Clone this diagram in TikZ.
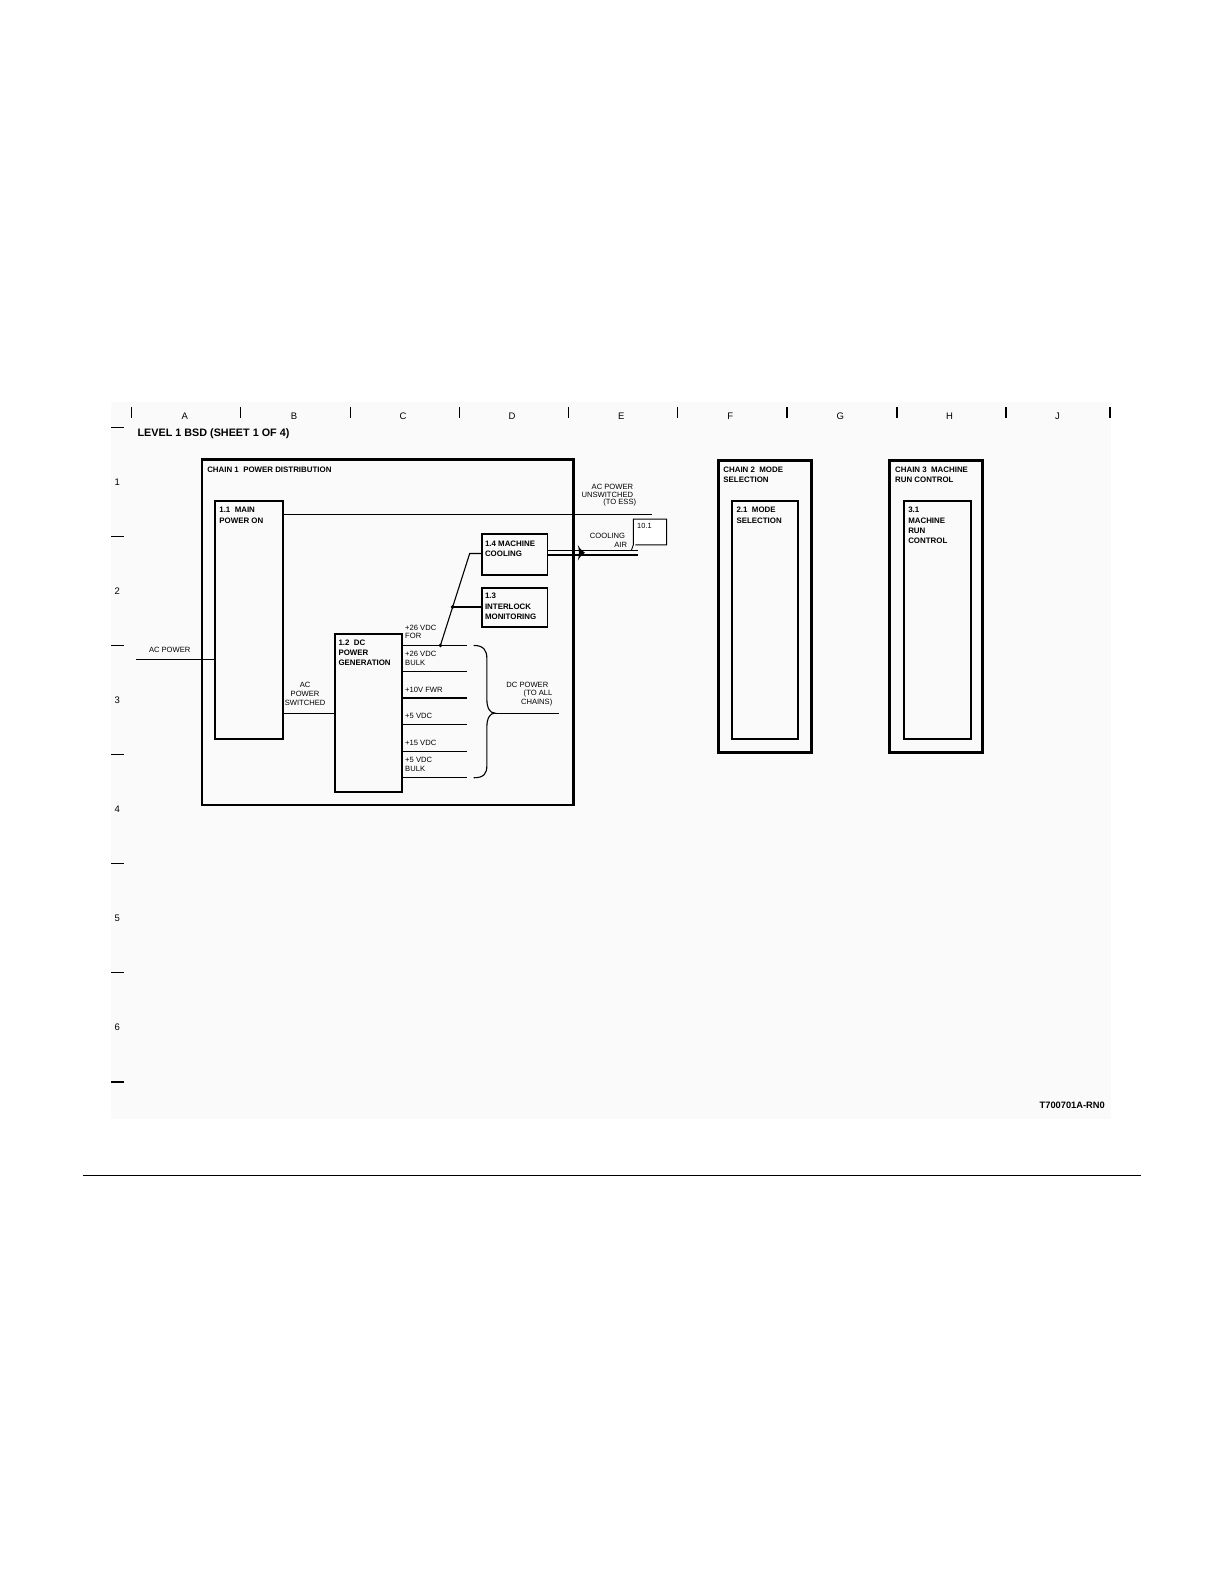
\documentclass[tikz,border=0pt]{standalone}
\usepackage{fontspec}
\setmainfont{Liberation Sans}
\usetikzlibrary{calc}
\begin{document}
\begin{tikzpicture}[x=1.0101pt,y=-1.0101pt,
  txt/.style={inner sep=0,font=\fontsize{7.6}{8.8}\selectfont,align=left},
  btxt/.style={inner sep=0,font=\fontsize{7.9}{10.3}\selectfont\bfseries,align=left},
  grid/.style={inner sep=0,font=\fontsize{9.5}{10}\selectfont},
  chainbox/.style={draw,line width=2.8pt},
  fbox/.style={draw,line width=1.8pt},
  wire/.style={line width=1.1pt},
  tick/.style={line width=1.4pt}]
\useasboundingbox (0,0) rectangle (1211.8,1568.2);
\fill[black!1.8] (110,398) rectangle (1100,1108);
% column ticks and letters
\foreach \x [count=\i] in {130,238,347,455,563,671,779,888,996,1099}
  \draw[tick] (\x,403) -- (\x,414);
\foreach \x/\l in {183/A,291/B,399/C,507/D,615/E,723/F,832/G,940/H,1047/J}
  \node[grid] (col\l) at (\x,412) {\l};
% row dashes and numbers
\foreach \y in {423,531,639,747,855,963,1071}
  \draw[tick] (110,\y) -- (123,\y);
\foreach \y/\n in {477/1,585/2,693/3,801/4,909/5,1017/6}
  \node[grid] (row\n) at (116,\y) {\n};
\node[btxt,font=\fontsize{10.8}{12}\selectfont\bfseries,anchor=west] (title) at (136,429) {LEVEL 1 BSD (SHEET 1 OF 4)};
% chain 1
\draw[chainbox] (200,455) rectangle (568,797);
\node[btxt,anchor=west] (c1t) at (205,465) {CHAIN 1\ \ POWER DISTRIBUTION};
\node[fbox,minimum width=67.7pt,minimum height=238.4pt,anchor=north west,inner sep=0] (b11) at (212,495) {};
\node[btxt,anchor=north west] (b11t) at (217,502.2) {1.1\ \ MAIN\\POWER ON};
\node[fbox,minimum width=66.7pt,minimum height=157.6pt,anchor=north west,inner sep=0] (b12) at (331,627) {};
\node[btxt,anchor=north west] (b12t) at (335,633.2) {1.2\ \ DC\\POWER\\GENERATION};
\node[fbox,minimum width=65.7pt,minimum height=40.4pt,anchor=north west,inner sep=0] (b14) at (476,528) {};
\node[btxt,anchor=north west] (b14t) at (480,535.2) {1.4 MACHINE\\COOLING};
\node[fbox,minimum width=65.7pt,minimum height=39.4pt,anchor=north west,inner sep=0] (b13) at (476,581) {};
\node[btxt,anchor=north west] (b13t) at (480,587.2) {1.3\\INTERLOCK\\MONITORING};
% AC power in
\coordinate (acin) at (135,653);
\draw[wire] (acin) -- (acin -| b11.west);
\node[txt] (acl) at (168,643) {AC POWER};
% AC unswitched
\coordinate (unsw) at (645,509);
\draw[wire] (unsw -| b11.east) -- (unsw);
\node[txt,anchor=east] (u1) at (627,482) {AC POWER};
\node[txt,anchor=east] (u2) at (627,490) {UNSWITCHED};
\node[txt,anchor=east] (u3) at (630,498) {(TO ESS)};
% AC switched
\coordinate (sw) at (300,706);
\draw[wire] (sw -| b11.east) -- (sw -| b12.west);
\node[txt,align=center] (swl) at (302,687) {AC\\POWER\\SWITCHED};
% DC outputs
\foreach \y/\n in {639/a,665/b,691/c,717/d,744/e,770/f}{
  \coordinate (o\n) at (462,\y);
  \draw[wire] (o\n -| b12.east) -- (o\n);
}
\node[txt,anchor=west] (l1) at (401,625.5) {+26 VDC\\FOR};
\node[txt,anchor=west] (l2) at (401,651.5) {+26 VDC\\BULK};
\node[txt,anchor=west] (l3) at (401,683) {+10V FWR};
\node[txt,anchor=west] (l4) at (401,709) {+5 VDC};
\node[txt,anchor=west] (l5) at (401,735) {+15 VDC};
\node[txt,anchor=west] (l6) at (401,756.5) {+5 VDC\\BULK};
% brace
\coordinate (tip) at (490,706);
\draw[wire] (469,639) .. controls (479,639) and (482,644) .. (482,652) -- (482,692)
  .. controls (482,701) and (485,706) .. (tip)
  .. controls (485,706) and (482,711) .. (482,720) -- (482,758)
  .. controls (482,766) and (479,770) .. (469,770);
\coordinate (dcout) at (553,706);
\draw[wire] (tip) -- (dcout);
\node[txt,anchor=east] (d1) at (543,678) {DC POWER};
\node[txt,anchor=east] (d2) at (547,687) {(TO ALL};
\node[txt,anchor=east] (d3) at (547,696) {CHAINS)};
% +26 FOR branch to 1.4 and 1.3
\coordinate (dotA) at (436,639);
\coordinate (corner) at (465,548);
\coordinate (dotB) at ($(dotA)!0.418!(corner)$);
\draw[wire] (dotA) -- (corner) -- (corner -| b14.west);
\draw[wire] (dotB) -- (dotB -| b13.west);
\fill (dotA) circle (1.9);
\fill (dotB) circle (1.9);
% cooling air
\coordinate (ca1) at (632,545);
\coordinate (ca2) at (632,549.5);
\draw[wire] (ca1 -| b14.east) -- (ca1);
\draw[wire] (ca2 -| b14.east) -- (ca2);
\fill (572,539.5) .. controls (574,543) .. (579,547.2) .. controls (574,551.5) .. (572,555) .. controls (573.5,551) and (573.5,543.5) .. cycle;
\node[txt,anchor=east] (co1) at (619,531) {COOLING};
\node[txt,anchor=east] (co2) at (621,539) {AIR};
\draw[line width=0.9pt,fill=white] (625,545) -- (627,539.5) -- (627,514) -- (660,514) -- (660,539.5) -- (629,539.5);
\node[txt,font=\fontsize{7.4}{8}\selectfont] (ref101) at (638,521) {10.1};
% chain 2
\draw[chainbox] (711,456) rectangle (803,745);
\node[btxt,anchor=north west] (c2t) at (716,462.2) {CHAIN 2\ \ MODE\\SELECTION};
\node[fbox,minimum width=65.7pt,minimum height=238.4pt,anchor=north west,inner sep=0] (b21) at (724,495) {};
\node[btxt,anchor=north west] (b21t) at (729,502.2) {2.1\ \ MODE\\SELECTION};
% chain 3
\draw[chainbox] (881,456) rectangle (973,745);
\node[btxt,anchor=north west] (c3t) at (886,462.2) {CHAIN 3\ \ MACHINE\\RUN CONTROL};
\node[fbox,minimum width=66.7pt,minimum height=238.4pt,anchor=north west,inner sep=0] (b31) at (894,495) {};
\node[btxt,anchor=north west] (b31t) at (899,502.2) {3.1\\MACHINE\\RUN\\CONTROL};
% figure id
\node[inner sep=0,anchor=east,font=\fontsize{9.3}{10}\selectfont\bfseries] (figid) at (1094,1094) {T700701A-RN0};
% page rule and link underline
\draw[line width=1.4pt] (82,1164) -- (1130,1164);
\draw[line width=1.2pt,color={rgb,255:red,20;green,20;blue,130}] (127,1576) -- (268,1576);
\end{tikzpicture}
\end{document}
